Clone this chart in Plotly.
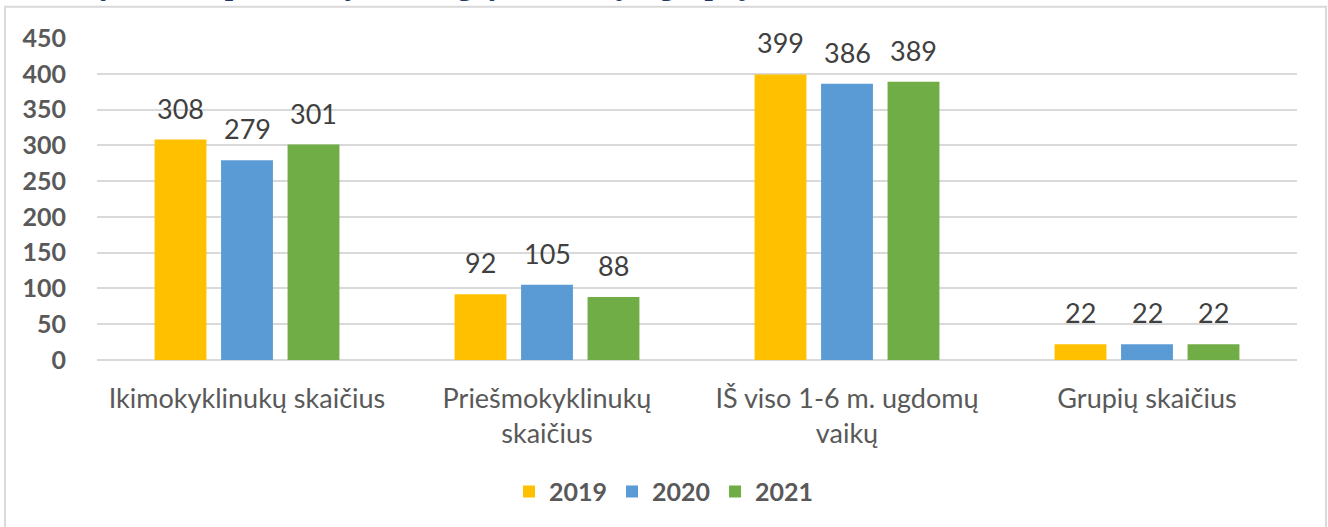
import plotly.graph_objects as go

categories = ["Ikimokyklinukų skaičius", "Priešmokyklinukų<br>skaičius",
              "IŠ viso 1-6 m. ugdomų<br>vaikų", "Grupių skaičius"]
years = ["2019", "2020", "2021"]
values_2019 = [308, 92, 399, 22]
values_2020 = [279, 105, 386, 22]
values_2021 = [301, 88, 389, 22]
colors = ["#FFC000", "#5B9BD5", "#70AD47"]

series = [values_2019, values_2020, values_2021]

fig = go.Figure()
for year, vals, col in zip(years, series, colors):
    fig.add_trace(go.Bar(x=categories, y=vals, name=f"<b>{year}</b>", marker_color=col,
                         marker_line_width=0))

# value labels above each bar
pitch = 66.5
for i, vals in enumerate(series):
    for cat, v in zip(categories, vals):
        fig.add_annotation(x=cat, y=v, text=str(v), showarrow=False,
                           yanchor="bottom", xshift=(i - 1) * pitch, yshift=13,
                           font=dict(family="Lato", size=27, color="#404040"))

# cut-off heading at the top of the page
fig.add_annotation(xref="paper", yref="paper", x=-0.0767, y=1.1085,
                   xanchor="left", yanchor="bottom", showarrow=False,
                   text="<b>Ikimokyklinio ir priešmokyklinio ugdymo vaikų ir grupių skaičiaus kaita</b>",
                   font=dict(family="Liberation Serif", size=30, color="#1F3864"))

# chart frame
fig.add_shape(type="rect", xref="paper", yref="paper", x0=-0.0767, x1=1.0242,
              y0=-0.56, y1=1.097, line=dict(color="#D9D9D9", width=2))

fig.update_layout(
    width=1328, height=527,
    margin=dict(l=97, r=31, t=38, b=167),
    paper_bgcolor="white", plot_bgcolor="white",
    barmode="group", bargap=0.335, bargroupgap=0.22,
    font=dict(family="Lato", color="#595959"),
    legend=dict(orientation="h", x=0.4725, xanchor="center", y=-0.409,
                yanchor="middle", font=dict(family="Lato", size=25, color="#595959"),
                itemwidth=30, traceorder="normal"),
)
fig.update_yaxes(range=[0, 450], dtick=50, showgrid=True, gridcolor="#D9D9D9",
                 gridwidth=1.5, zeroline=True, zerolinecolor="#D9D9D9", zerolinewidth=1.5,
                 showline=False, ticklabelstandoff=30,
                 tickfont=dict(family="Lato", size=25, color="#595959"),
                 tickprefix="<b>", ticksuffix="</b>")
fig.update_xaxes(showgrid=False, showline=False, ticklabelstandoff=20,
                 tickfont=dict(family="Lato", size=27, color="#595959"))

fig.write_html("out.html", config={"displayModeBar": False},
               post_script="document.body.style.margin='0';document.body.style.overflow='hidden';")
